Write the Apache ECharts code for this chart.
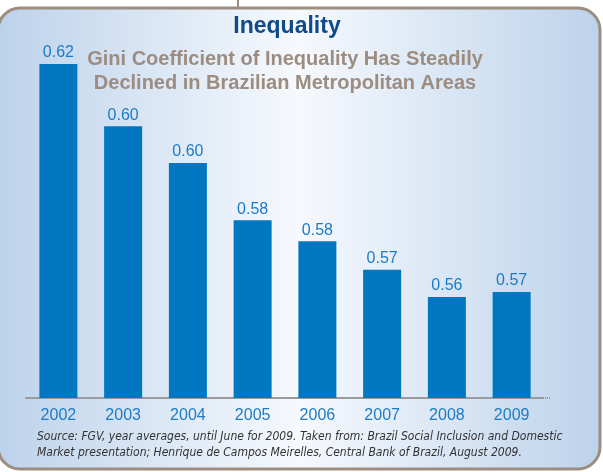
<!DOCTYPE html>
<html>
<head>
<meta charset="utf-8">
<script src="https://cdn.jsdelivr.net/npm/echarts@6/dist/echarts.min.js"></script>
<style>html,body{margin:0;padding:0;background:#fff;}#c{width:603px;height:472px;}</style>
</head>
<body>
<div id="c"></div>
<script>
var years = ['2002','2003','2004','2005','2006','2007','2008','2009'];
// bar heights (axis is truncated)
var gini = [0.616, 0.600, 0.5905, 0.5758, 0.5704, 0.563, 0.556, 0.5573];
// value labels as printed on the chart
var giniLabels = ['0.62','0.60','0.60','0.58','0.58','0.57','0.56','0.57'];
var titleText = 'Inequality';
var subtitleText = 'Gini Coefficient of Inequality Has Steadily\nDeclined in Brazilian Metropolitan Areas';
var sourceText = 'Source: FGV, year averages, until June for 2009. Taken from: Brazil Social Inclusion and Domestic\nMarket presentation; Henrique de Campos Meirelles, Central Bank of Brazil, August 2009.';

var sans = '"Liberation Sans", Arial, sans-serif';
var cond = '"DejaVu Sans Condensed", "Liberation Sans", sans-serif';
var chart = echarts.init(document.getElementById('c'), null, {renderer: 'canvas'});
chart.setOption({
  backgroundColor: '#ffffff',
  animation: false,
  graphic: [
    {type: 'line', z: -10, shape: {x1: 238, y1: 0, x2: 238, y2: 9}, style: {stroke: '#9c8d80', lineWidth: 2}},
    {type: 'rect', z: -10, shape: {x: -2, y: 8, width: 602, height: 461, r: 22},
      style: {
        fill: new echarts.graphic.LinearGradient(0, 0, 1, 0, [
          {offset: 0, color: '#bcd2eb'},
          {offset: 0.5, color: '#f6f9fd'},
          {offset: 1, color: '#bcd2eb'}
        ]),
        stroke: '#9c8d80', lineWidth: 3
      }
    },
    {type: 'line', z: 5, shape: {x1: 543, y1: 398, x2: 551, y2: 398},
      style: {stroke: '#9a9a9a', lineWidth: 2, lineDash: [1, 1]}},
    {type: 'text', x: 287, y: 15, z: 10,
      style: {text: titleText, fill: '#0f4a8a', font: 'bold 23px ' + sans, textAlign: 'center', textVerticalAlign: 'top'}},
    {type: 'text', x: 285, y: 47, z: 10,
      style: {text: subtitleText, fill: '#9c8d80', font: 'bold 20px ' + sans, textAlign: 'center', textVerticalAlign: 'top', lineHeight: 24}},
    {type: 'text', x: 37, y: 429, z: 10,
      style: {text: sourceText, fill: '#333333', font: 'italic 12px ' + cond, textVerticalAlign: 'top', lineHeight: 16}}
  ],
  grid: {left: 26, right: 59, top: 9.7, bottom: 74},
  xAxis: {
    type: 'category', data: years,
    axisLine: {show: true, lineStyle: {color: '#9a9a9a', width: 2, type: [1, 1]}},
    axisTick: {show: false},
    axisLabel: {color: '#1b7bc4', fontFamily: sans, fontSize: 16, margin: 10}
  },
  yAxis: {type: 'value', min: 0.53, max: 0.63, show: false, splitLine: {show: false}},
  series: [{
    type: 'bar', data: gini, barWidth: 38,
    itemStyle: {color: '#0077c0'},
    label: {
      show: true, position: 'top', distance: 3,
      color: '#1b7bc4', fontFamily: sans, fontSize: 16,
      formatter: function (p) { return giniLabels[p.dataIndex]; }
    }
  }]
});
</script>
</body>
</html>
